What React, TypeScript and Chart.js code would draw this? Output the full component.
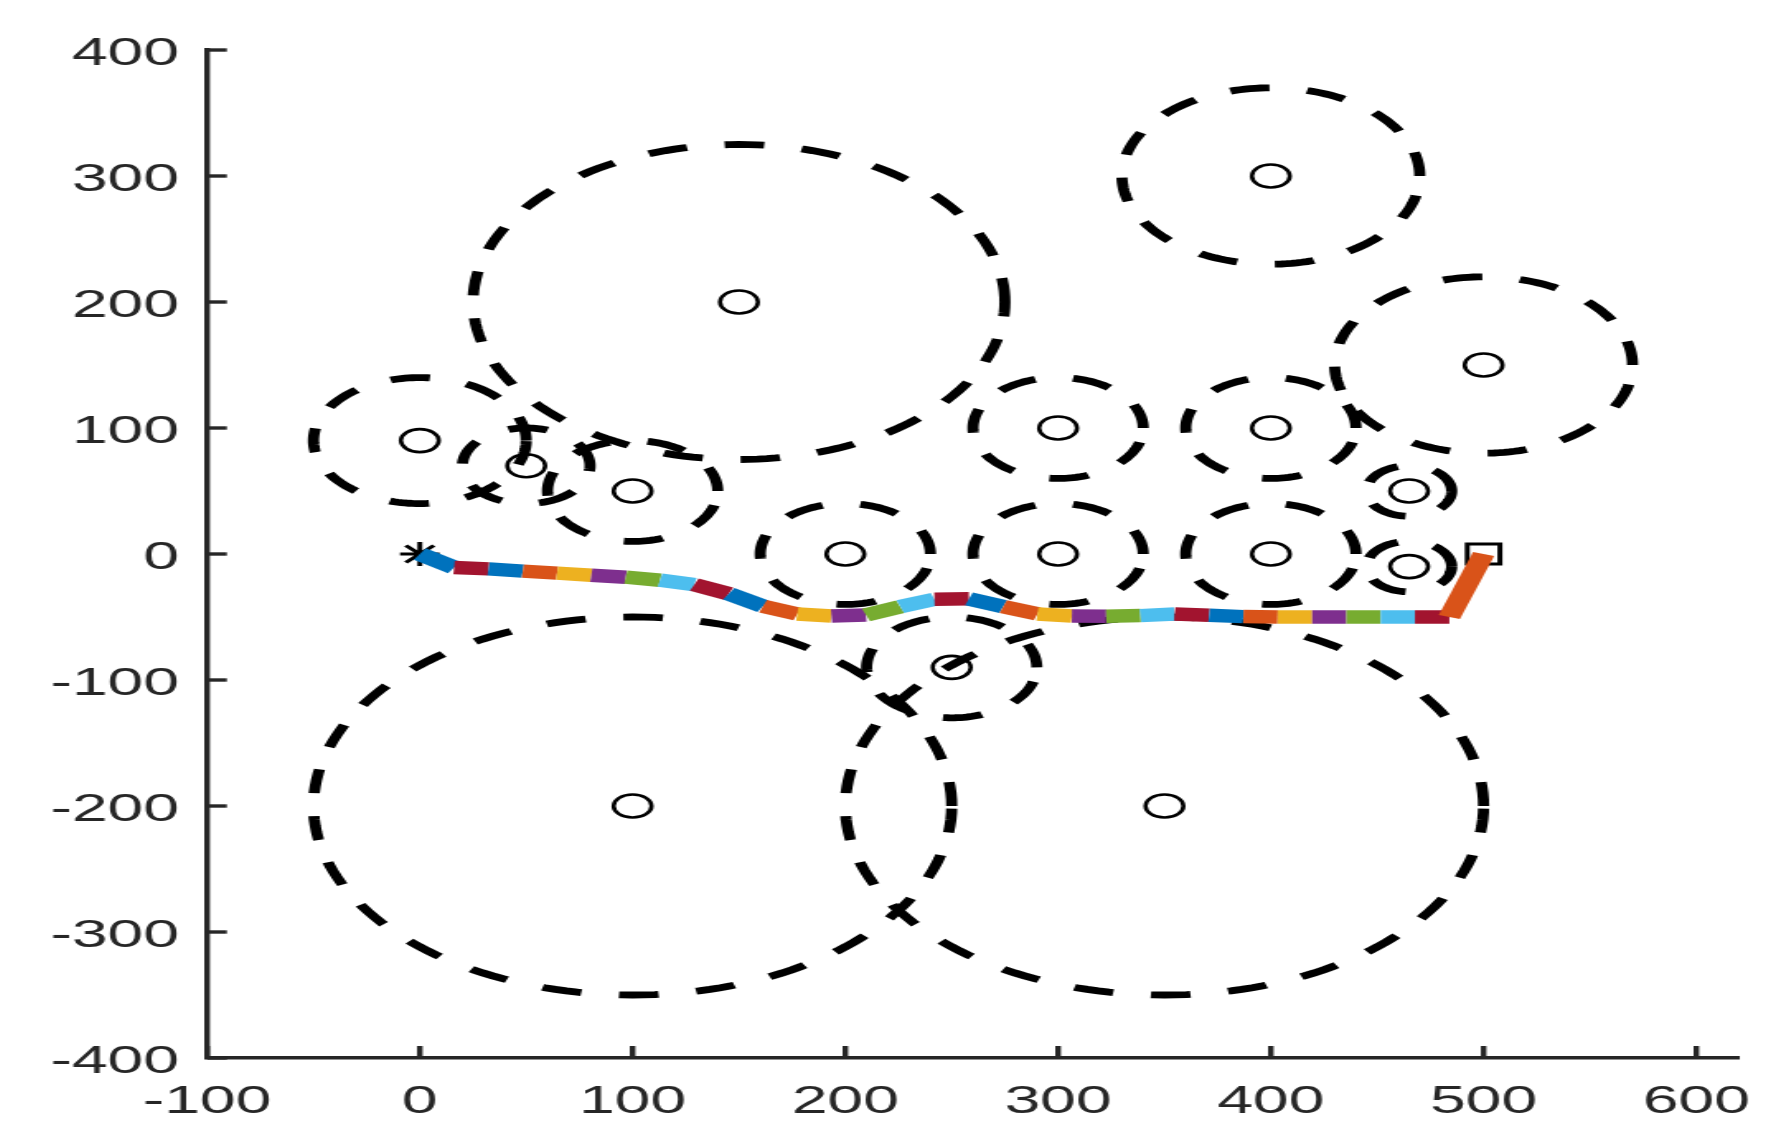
import React, { useEffect, useRef } from "react";
import { Chart, registerables } from "chart.js";

Chart.register(...registerables);

// ---- data ----
const obstacleX = [150, 400, 500, 0, 50, 100, 200, 300, 400, 300, 400, 465, 465, 250, 100, 350];
const obstacleY = [200, 300, 150, 90, 70, 50, 0, 100, 100, 0, 0, 50, -10, -90, -200, -200];
const obstacleR = [125, 70, 70, 50, 30, 40, 40, 40, 40, 40, 40, 20, 20, 40, 150, 150];

const pathX = [0, 16.1, 32.3, 48.4, 64.5, 80.6, 96.8, 112.9, 129.0, 145.2, 161.3, 177.4, 193.5, 209.7, 225.8, 241.9, 258.1, 274.2, 290.3, 306.5, 322.6, 338.7, 354.8, 371.0, 387.1, 403.2, 419.4, 435.5, 451.6, 467.7, 483.9, 500];
const pathY = [0, -10.7, -11.8, -13.6, -15.2, -16.8, -18.4, -20.8, -24.3, -31.5, -41.5, -47.6, -49.2, -48.4, -41.8, -35.9, -35.6, -41.8, -47.6, -49.2, -49.4, -48.9, -47.6, -48.6, -49.7, -50, -50, -50, -50, -50, -50, 0];

const BLUE = "#0072BD", ORANGE = "#D95319", YELLOW = "#EDB120", PURPLE = "#7E2F8E", GREEN = "#77AC30", CYAN = "#4DBEEE", RED = "#A2142F";
const segmentColors = [
  BLUE, RED, BLUE, ORANGE, YELLOW, PURPLE, GREEN, CYAN, RED,
  BLUE, ORANGE, YELLOW, PURPLE, GREEN, CYAN, RED,
  BLUE, ORANGE, YELLOW, PURPLE, GREEN, CYAN, RED,
  BLUE, ORANGE, YELLOW, PURPLE, GREEN, CYAN, RED,
  ORANGE,
];

const startPoint = { x: 0, y: 0 };
const goalPoint = { x: 500, y: 0 };

const xTicks = [-100, 0, 100, 200, 300, 400, 500, 600];
const yTicks = [-400, -300, -200, -100, 0, 100, 200, 300, 400];
const X_MIN = -100, X_MAX = 620, Y_MIN = -400, Y_MAX = 400;

// ---- layout (internal canvas px, stretched horizontally by CSS) ----
const CSS_W = 1768, CSS_H = 1122;
const CW = 1072, CH = 1122;
const AXIS = "#262626";
const FONT = "'Liberation Sans', Arial, sans-serif";

function circleOutline(cx: number, cy: number, r: number) {
  const pts: { x: number; y: number }[] = [];
  const n = 180;
  for (let i = 0; i <= n; i++) {
    const t = (i / n) * Math.PI * 2;
    pts.push({ x: cx + r * Math.cos(t), y: cy + r * Math.sin(t) });
  }
  return pts;
}

const inwardTicks = {
  id: "inwardTicks",
  afterDatasetsDraw(chart: any) {
    const { ctx, chartArea, scales } = chart;
    const len = 12;
    ctx.save();
    ctx.strokeStyle = AXIS;
    ctx.lineWidth = 3.4;
    ctx.lineCap = "butt";
    xTicks.forEach((v) => {
      const px = scales.x.getPixelForValue(v);
      ctx.beginPath();
      ctx.moveTo(px, chartArea.bottom);
      ctx.lineTo(px, chartArea.bottom - len);
      ctx.stroke();
    });
    yTicks.forEach((v) => {
      const py = scales.y.getPixelForValue(v);
      ctx.beginPath();
      ctx.moveTo(chartArea.left, py);
      ctx.lineTo(chartArea.left + len, py);
      ctx.stroke();
    });
    ctx.restore();
  },
};

export default function App() {
  const ref = useRef<HTMLCanvasElement>(null);
  useEffect(() => {
    if (!ref.current) return;
    const pathData = pathX.map((x, i) => ({ x, y: pathY[i] }));
    const centers = obstacleX.map((x, i) => ({ x, y: obstacleY[i] }));
    const circleSets = obstacleX.map((cx, i) => ({
      type: "line" as const,
      data: circleOutline(cx, obstacleY[i], obstacleR[i]),
      borderColor: "#000000",
      borderWidth: 6.8,
      borderDash: [24, 23],
      borderCapStyle: "butt" as const,
      pointRadius: 0,
      fill: false,
      tension: 0,
      showLine: true,
    }));
    const chart = new Chart(ref.current, {
      type: "line",
      data: {
        datasets: [
          {
            data: pathData,
            borderColor: BLUE,
            borderWidth: 13.5,
            borderCapStyle: "butt",
            borderJoinStyle: "miter",
            pointRadius: 0,
            fill: false,
            tension: 0,
            segment: {
              borderColor: (c: any) => segmentColors[c.p0DataIndex],
            },
          } as any,
          {
            data: [startPoint],
            showLine: false,
            pointStyle: "star",
            pointRadius: 12,
            borderColor: "#000000",
            backgroundColor: "#000000",
            borderWidth: 3,
          },
          {
            data: [goalPoint],
            showLine: false,
            pointStyle: "rect",
            pointRadius: 14,
            borderColor: "#000000",
            backgroundColor: "rgba(0,0,0,0)",
            borderWidth: 3,
          },
          {
            data: centers,
            showLine: false,
            pointStyle: "circle",
            pointRadius: 11.5,
            borderColor: "#000000",
            backgroundColor: "rgba(0,0,0,0)",
            borderWidth: 2.6,
          },
          ...circleSets,
        ],
      },
      options: {
        responsive: false,
        animation: false,
        devicePixelRatio: 1,
        layout: { padding: { top: 42, right: 22.5, left: 0, bottom: 0 } },
        plugins: { legend: { display: false }, tooltip: { enabled: false } },
        events: [],
        scales: {
          x: {
            type: "linear",
            min: X_MIN,
            max: X_MAX,
            grid: { display: false, drawTicks: false },
            border: { display: true, color: AXIS, width: 3.4 },
            afterBuildTicks: (s: any) => {
              s.ticks = xTicks.map((v) => ({ value: v }));
            },
            afterFit: (s: any) => {
              s.height = 72;
              s.paddingLeft = 0;
              s.paddingRight = 0;
            },
            ticks: {
              autoSkip: false,
              maxRotation: 0,
              padding: 21,
              color: AXIS,
              font: { family: FONT, size: 39 },
              callback: (v: any) => String(v),
            },
          },
          y: {
            type: "linear",
            min: Y_MIN,
            max: Y_MAX,
            grid: { display: false, drawTicks: false },
            border: { display: true, color: AXIS, width: 3.4 },
            afterBuildTicks: (s: any) => {
              s.ticks = yTicks.map((v) => ({ value: v }));
            },
            afterFit: (s: any) => {
              s.width = 120.7;
              s.paddingTop = 0;
              s.paddingBottom = 0;
            },
            ticks: {
              autoSkip: false,
              padding: 17,
              color: AXIS,
              font: { family: FONT, size: 39, lineHeight: "9px" },
              callback: (v: any) => ["", String(v)],
            },
          },
        },
      } as any,
      plugins: [inwardTicks],
    });
    return () => chart.destroy();
  }, []);
  return (
    <canvas
      ref={ref}
      width={CW}
      height={CH}
      style={{ display: "block", width: CSS_W + "px", height: CSS_H + "px" }}
    />
  );
}
